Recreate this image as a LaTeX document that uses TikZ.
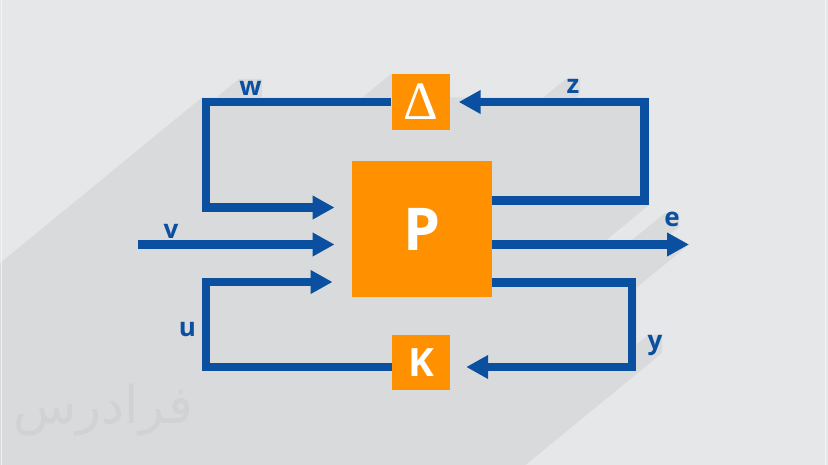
\documentclass[tikz,border=0pt]{standalone}
\usepackage{fontspec}
\setmainfont{Open Sans}
\newfontfamily\deltafont{Liberation Serif}
\newfontfamily\arabicfont[Script=Arabic]{DejaVu Sans}
\TeXXeTstate=1
\usetikzlibrary{arrows.meta}
\definecolor{bgc}{HTML}{E6E7E9}
\definecolor{shc}{HTML}{D9DADC}
\definecolor{blu}{HTML}{0B4FA0}
\definecolor{org}{HTML}{FF9000}
\definecolor{wmc}{HTML}{D1D2D4}
\newcommand\shrect[4]{\fill[shd] (#1,#2) -- (#3,#2) -- (#3,#4) -- ++(-1000,820) -- ([shift={(-1000,820)}]#1,#2) -- cycle;}
\begin{document}
\begin{tikzpicture}[x=1pt,y=-1pt,
  box/.style={fill=org, draw=none, inner sep=0pt, text=white, font=\bfseries},
  conn/.style={draw=blu, line width=8.6pt},
  tip/.style={conn, -{Triangle[length=22pt,width=22.5pt]}},
  lab/.style={text=blu, font=\bfseries\fontsize{26}{26}\selectfont, inner sep=0pt, anchor=base},
  shd/.style={fill=shc, draw=none}]
\useasboundingbox (0,0) rectangle (828,465);
\fill[bgc] (0,0) rectangle (828,465);
% long shadow
\begin{scope}
\clip (0,0) rectangle (828,465);
\shrect{202}{97.5}{649}{205}
\shrect{391}{74}{450}{130}
\shrect{352}{161}{492}{297}
\shrect{492}{240}{668}{249}
\fill[shd] (668,233) -- (689,244.5) -- ++(-1000,820) -- ([shift={(-1000,820)}]668,233) -- cycle;
\shrect{202}{278}{636.5}{372}
\shrect{392}{335}{450}{390}
\shrect{239}{79}{262}{96}
\shrect{566}{79}{580}{94}
\shrect{665}{213}{679}{227}
\shrect{648}{335}{662}{353}
\end{scope}
\draw[white, line width=1pt, opacity=0.6] (1.5,0) -- (1.5,465);
\draw[white, line width=1pt, opacity=0.6] (825.5,0) -- (825.5,465);
% watermark
\node[text=wmc, font=\arabicfont\fontsize{52}{52}\selectfont, inner sep=0pt] (wm) at (103,410) {\beginR فرادرس\endR};
% boxes
\node[box, minimum width=58.5pt, minimum height=56pt] (D) at (420.75,102) {\deltafont\mdseries\fontsize{54}{54}\selectfont Δ};
\node[box, minimum width=140pt, minimum height=136pt] (P) at (421.75,229) {\fontsize{59}{59}\selectfont P};
\node[box, minimum width=58pt, minimum height=55pt] (K) at (421,362.5) {\fontsize{39}{39}\selectfont K};
% corners
\coordinate (c1) at (206,102);
\coordinate (c2) at (206,207.5);
\coordinate (c3) at (644.5,200.5);
\coordinate (c4) at (644.5,102);
\coordinate (vs) at (138,244.5);
\coordinate (ee) at (689,244.5);
\coordinate (c5) at (632,282.5);
\coordinate (c6) at (632,367);
\coordinate (c7) at (206,367);
\coordinate (c8) at (206,282);
% connectors
\draw[tip, shorten >=17pt] (D.west) -- (c1) -- (c2) -- (P.west |- c2);
\draw[tip, shorten >=8.5pt] (P.east |- c3) -- (c3) -- (c4) -- (D.east);
\draw[tip, shorten >=17pt] (vs) -- (P.west |- vs);
\draw[tip] (P.east |- ee) -- (ee);
\draw[tip, shorten >=16pt] (P.east |- c5) -- (c5) -- (c6) -- (K.east |- c6);
\draw[tip, shorten >=19pt] (K.west |- c7) -- (c7) -- (c8) -- (P.west |- c8);
% labels
\node[lab] (lw) at (250.5,96) {w};
\node[lab] (lz) at (573,94) {z};
\node[lab] (lv) at (171,239) {v};
\node[lab] (le) at (672,226.5) {e};
\node[lab] (lu) at (187.5,337) {u};
\node[lab] (ly) at (655,349) {y};
\end{tikzpicture}
\end{document}
